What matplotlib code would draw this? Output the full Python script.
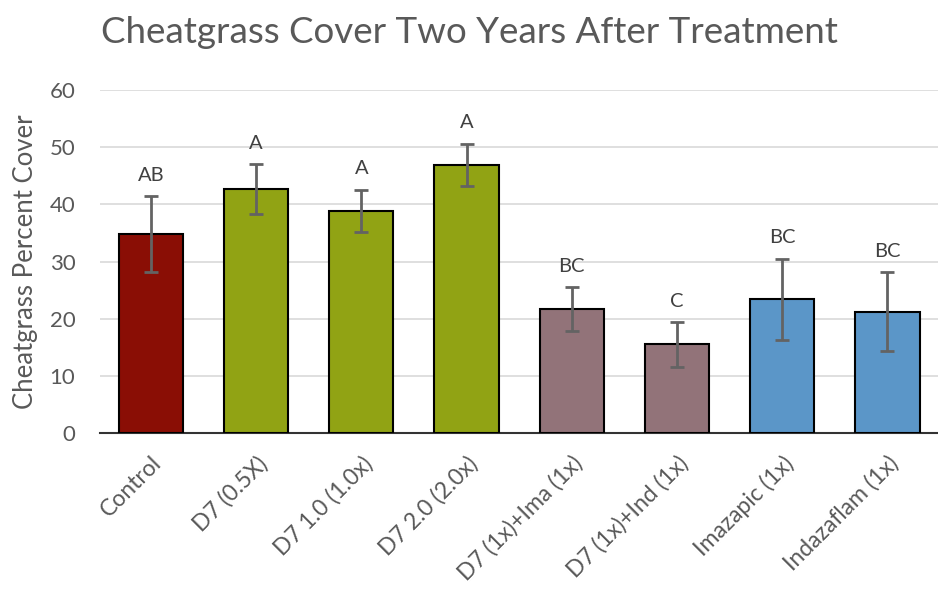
import matplotlib.pyplot as plt

plt.rcParams['font.family'] = ['Lato', 'DejaVu Sans']

categories = ["Control", "D7 (0.5X)", "D7 1.0 (1.0x)", "D7 2.0 (2.0x)",
              "D7 (1x)+Ima (1x)", "D7 (1x)+Ind (1x)", "Imazapic (1x)", "Indazaflam (1x)"]
cover = [34.8, 42.7, 38.9, 46.9, 21.7, 15.5, 23.4, 21.2]
errors = [6.6, 4.3, 3.7, 3.7, 3.8, 3.9, 7.1, 6.9]
letters = ["AB", "A", "A", "A", "BC", "C", "BC", "BC"]
colors = ["#8a0e05", "#91a314", "#91a314", "#91a314",
          "#927379", "#927379", "#5b96c8", "#5b96c8"]

fig = plt.figure(figsize=(9.38, 5.89), dpi=100)
ax = fig.add_axes([0.107, 0.265, 0.893, 0.582])

x = list(range(len(categories)))
ax.bar(x, cover, width=0.61, color=colors, edgecolor="black", linewidth=1.5, zorder=3)
ax.errorbar(x, cover, yerr=errors, fmt="none", ecolor="#636363", elinewidth=2,
            capsize=5, capthick=2, zorder=4)

for xi, v, e, lab in zip(x, cover, errors, letters):
    ax.annotate(lab, (xi, v + e), xytext=(0, 9), textcoords="offset points",
                ha="center", va="bottom", fontsize=14.5, color="#404040")

ax.set_xlim(-0.48, len(categories) - 0.52)
ax.set_ylim(0, 60)
ax.set_yticks(range(0, 61, 10))
ax.grid(axis="y", color="#d9d9d9", linewidth=1.2, zorder=0)
ax.set_axisbelow(True)
for s in ["left", "right", "top"]:
    ax.spines[s].set_visible(False)
ax.spines["bottom"].set_color("#333333")
ax.spines["bottom"].set_linewidth(1.5)
ax.tick_params(axis="y", length=0, labelsize=16, colors="#595959", pad=18)
ax.tick_params(axis="x", length=0, labelsize=16.5, colors="#595959", pad=14)
ax.set_xticks(x)
ax.set_xticklabels(categories, rotation=45, ha="right", rotation_mode="anchor")

ax.set_ylabel("Cheatgrass Percent Cover", fontsize=18.5, color="#595959", labelpad=8)
fig.text(0.5, 0.945, "Cheatgrass Cover Two Years After Treatment", ha="center",
         va="center", fontsize=26.5, color="#595959")

fig.savefig("out.png", dpi=100)
plt.close(fig)
